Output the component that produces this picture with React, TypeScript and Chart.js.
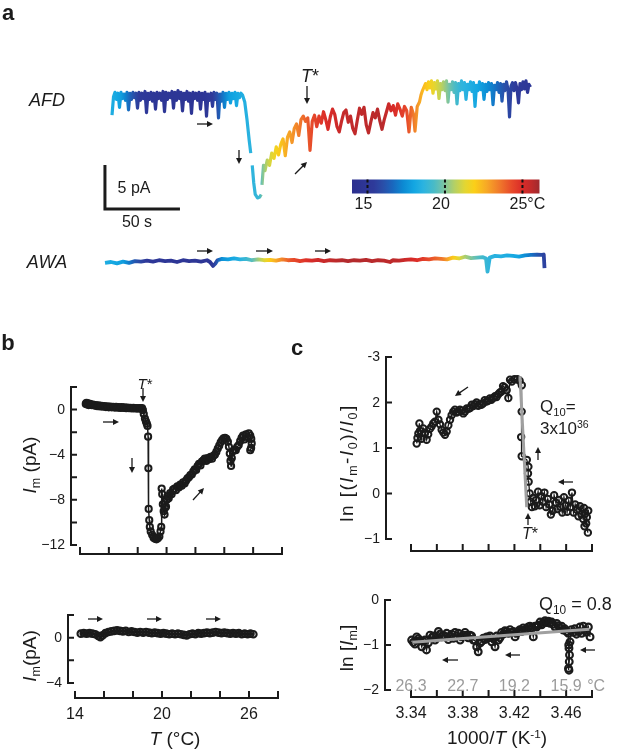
import React, { useEffect, useRef } from "react";
import { Chart, registerables } from "chart.js";

Chart.register(...registerables);

const PAGE_W = 619;
const PAGE_H = 755;
const FONT = '"Liberation Sans", Arial, Helvetica, sans-serif';
const INK = "#1b1b1b";
const FIT_GREY = "#a0a0a0";
const LABEL_GREY = "#9b9b9b";

// ================= Panel a : AFD current trace (s, pA) =================
const afdTime = [
  0, 1, 2, 3, 4, 5, 6, 7, 8, 9,
  10, 11, 12, 13, 14, 15, 16, 17, 18, 19,
  20, 21, 22, 23, 24, 25, 26, 27, 28, 29,
  30, 31, 32, 33, 34, 35, 36, 37, 38, 39,
  40, 41, 42, 43, 44, 45, 46, 47, 48, 49,
  50, 51, 52, 53, 54, 55, 56, 57, 58, 59,
  60, 61, 62, 63, 64, 65, 66, 67, 68, 69,
  70, 71, 72, 73, 74, 75, 76, 77, 78, 79,
  80, 81, 82, 83, 84, 85, 86, 87,
  88.5, 90, 91.5, 92.5, 93, 93.5, 94.5, 95.5, 97, 98.5, 99.5, 99.8,
  100, 101, 102, 103.5, 105, 106.5, 108, 109.5, 111, 112.5,
  114, 115.5, 117, 118.5, 120, 121.5, 123, 124.5, 126, 127.5,
  129, 130.5, 132, 133.5, 135, 136.5, 138, 139.5, 141, 142.5,
  144, 145.5, 147, 148.5, 150, 151.5, 153, 154.5, 156, 157.5,
  159, 160.5, 162, 163.5, 165, 166.5, 168, 169.5, 171, 172.5,
  174, 175.5, 177, 178.5, 180, 181.5, 183, 184.5, 186, 187.5,
  189, 190.5, 192, 193.5, 195, 196.5, 198, 199.5, 201, 202,
  203.5, 205,
  206, 207, 208, 209, 210, 211, 212, 213, 214, 215,
  216, 217, 218, 219, 220, 221, 222, 223, 224, 225,
  226, 227, 228, 229, 230, 231, 232, 233, 234, 235,
  236, 237, 238, 239, 240, 241, 242, 243, 244, 245,
  246, 247, 248, 249, 250, 251, 252, 253, 254, 255,
  256, 257, 258, 259, 260, 261, 262, 263, 264, 265,
  266, 267, 268, 269, 270, 271, 272, 273, 274, 275,
  276, 277, 278, 279,
];
const afdCurrent: (number | null)[] = [
  -2.3, -0.2, 0.3, -0.5, 0.2, -1.4, 0.3, -0.4, 0.1, -0.6,
  0.3, -1.7, 0.2, -0.5, 0.3, -0.3, 0.2, -1.5, 0.3, -0.6,
  0.2, -0.4, 0.4, -2.0, 0.2, -0.5, 0.3, -0.7, 0.2, -1.6,
  0.3, -0.4, 0.2, -0.6, 0.4, -1.9, 0.3, -0.5, 0.2, -0.3,
  0.4, -1.5, 0.3, -0.6, 0.5, -0.4, 0.3, -1.8, 0.2, -0.5,
  0.4, -0.7, 0.2, -2.1, 0.3, -0.4, 0.2, -0.6, 0.3, -1.6,
  0.2, -0.5, 0.3, -2.4, 0.1, -0.6, 0.2, -1.3, 0.3, -0.5,
  0.2, -2.6, 0.1, -0.7, 0.3, -1.4, 0.2, -0.5, 0.3, -0.9,
  0.2, -0.4, 0.3, -1.2, 0.2, -0.3, 0.2, 0.0,
  -0.8, -2.8, -5.2, -6.6, null, -8.0, -10.0, -11.3, -11.7, -11.6, -11.3, null,
  -10.2, -8.0, -8.6, -7.4, -8.0, -6.6, -7.2, -5.9, -6.8, -5.6,
  -5.0, -6.9, -4.8, -4.2, -5.4, -3.8, -3.3, -4.6, -2.8, -2.4,
  -3.0, -2.6, -6.3, -3.0, -2.3, -3.6, -2.4, -3.2, -1.9, -2.8,
  -3.9, -2.5, -1.6, -2.2, -3.6, -4.2, -3.0, -2.0, -1.7, -3.1,
  -2.4, -3.8, -4.4, -2.9, -1.5, -2.2, -1.4, -3.4, -4.3, -3.1,
  -2.0, -2.6, -1.6, -2.9, -3.9, -2.8, -1.9, -1.0, -1.8, -1.2,
  -2.3, -1.0, -1.6, -2.4, -1.3, -1.8, -4.2, -1.4, -2.2, -4.1,
  -1.3, -0.8,
  0.0, 0.5, 0.9, 1.3, 0.6, 1.5, 0.8, 1.6, 0.2, 1.4,
  0.7, 1.6, -0.4, 1.3, 0.6, 1.5, 0.5, 1.6, -0.8, 1.2,
  0.6, 1.5, 0.3, 1.4, -1.0, 1.3, 0.5, 1.6, 0.6, 1.4,
  -0.5, 1.2, 0.6, 1.5, 0.4, 1.4, -1.3, 1.1, 0.5, 1.5,
  0.6, 1.3, -0.5, 1.2, 0.4, 1.4, 0.6, 1.3, -1.1, 1.1,
  0.6, 1.4, 0.3, 1.3, -0.7, 1.2, 0.5, 1.5, 0.6, -2.5,
  1.0, 1.4, 0.5, 1.4, 0.7, -0.9, 1.3, 0.6, 1.5, 0.7,
  1.6, 0.3, 1.2, 0.9,
];
// bath temperature during the AFD recording (s, °C)
const afdTempTime = [0, 6, 12, 18, 30, 60, 67, 72, 78, 88, 98, 100, 104, 110, 116, 124, 132, 140, 155, 180, 188, 196, 201, 207, 213, 219, 225, 232, 244, 254, 262, 270, 279];
const afdTempC = [18.3, 17.8, 16.5, 15.4, 14.9, 14.8, 15.4, 16.5, 17.8, 18.4, 18.9, 19.9, 20.9, 21.8, 22.6, 23.4, 24.2, 24.8, 25.5, 25.7, 25.0, 24.4, 23.5, 22.4, 21.6, 20.8, 19.8, 18.8, 18.0, 17.0, 16.0, 15.3, 15.0];

// ================= Panel a : AWA current trace (s, pA) =================
const awaTime = [
  0, 4, 8, 12, 16, 20, 24, 28, 32, 36,
  40, 44, 48, 52, 56, 60, 64, 68, 70, 72,
  73.5, 75, 78, 82, 86, 90, 94, 98, 102, 106,
  110, 114, 118, 122, 126, 130, 134, 138, 142, 146,
  150, 154, 158, 162, 166, 170, 174, 178, 182, 186,
  190, 192, 196, 200, 204, 208, 212, 216, 220, 224,
  228, 232, 236, 240, 244, 248, 252, 254, 255, 256.5,
  260, 264, 268, 272, 276, 280, 284, 288, 291, 292.5,
  293,
];
const awaCurrent = [
  -0.1, 0.0, -0.15, 0.05, -0.1, 0.1, 0.05, 0.15, 0.05, 0.2,
  0.1, 0.15, 0.0, 0.2, 0.1, 0.15, 0.05, 0.2, 0.0, -0.45,
  -0.2, 0.2, 0.35, 0.3, 0.4, 0.3, 0.35, 0.2, 0.3, 0.2,
  0.25, 0.15, 0.3, 0.2, 0.25, 0.1, 0.2, 0.15, 0.25, 0.1,
  0.2, 0.15, 0.2, 0.1, 0.2, 0.15, 0.25, 0.1, 0.2, 0.15,
  0.0, 0.2, 0.15, 0.25, 0.3, 0.2, 0.35, 0.3, 0.4, 0.35,
  0.3, 0.5, 0.4, 0.6, 0.45, 0.5, 0.55, 0.4, -1.1, 0.5,
  0.7, 0.65, 0.75, 0.7, 0.6, 0.75, 0.8, 0.85, 0.8, 0.85,
  -0.7,
];
const awaTempTime = [0, 12, 20, 30, 70, 74, 78, 90, 98, 104, 110, 116, 124, 140, 160, 195, 210, 225, 232, 240, 248, 256, 275, 283, 290, 293];
const awaTempC = [18.3, 17.8, 16.2, 15.0, 14.8, 16.0, 17.5, 18.5, 19.5, 20.8, 22.0, 23.0, 24.2, 25.2, 25.8, 25.6, 24.8, 23.5, 22.0, 20.5, 19.5, 18.7, 18.0, 17.0, 16.0, 15.6];

// scale bar of panel a
const scaleBarSeconds = 50;
const scaleBarPicoAmp = 5;

// colour bar (°C)
const colorbarTicks = [15, 20, 25];
const colorbarTickLabels = ["15", "20", "25"];
const colorbarUnit = "°C";
const jetTemps = [14.0, 15.4, 16.0, 16.6, 17.3, 18.0, 18.6, 19.3, 19.9, 20.6, 21.3, 21.9, 22.7, 23.5, 24.3, 25.0, 25.6, 26.1];
const jetColors = ["#2c2f8e", "#2e3a9a", "#2a4ea8", "#1a66bd", "#0c8ad3", "#13a6e2", "#2bb3e0", "#4abbc6", "#78c3a4", "#b3d066", "#e3d632", "#fbcf18", "#f7a826", "#f07a2b", "#e74a2a", "#da2b28", "#bf2a2b", "#9e2a2f"];

// ================= Panel b : I_m vs T =================
const bAfdTemp = [
  14.40, 14.45, 14.50, 14.55, 14.60, 14.70, 14.80, 14.90, 15.00, 15.10,
  15.20, 15.30, 15.40, 15.50, 15.60, 15.70, 15.80, 15.90, 16.00, 16.10,
  16.20, 16.30, 16.40, 16.50, 16.60, 16.70, 16.80, 16.90, 17.00, 17.10,
  17.20, 17.30, 17.40, 17.50, 17.60, 17.70, 17.80, 17.90, 18.00, 18.10,
  18.20, 18.30, 18.36, 18.42, 18.50, 18.57, 18.63, 18.68, 18.72, 18.74,
  18.76, 18.80, 18.84, 18.90, 19.00, 19.10, 19.20, 19.30, 19.40, 19.50,
  19.58, 19.63, 19.66, 19.70, 19.74, 19.80, 19.86, 19.90, 19.96, 20.02,
  20.08, 20.15, 20.25, 20.35, 20.45, 20.55, 20.65, 20.75, 20.85, 20.95,
  21.05, 21.15, 21.25, 21.35, 21.45, 21.55, 21.65, 21.75, 21.85, 21.95,
  22.05, 22.15, 22.25, 22.35, 22.45, 22.55, 22.65, 22.75, 22.85, 22.95,
  23.05, 23.15, 23.25, 23.35, 23.45, 23.55, 23.65, 23.75, 23.85, 23.95,
  24.05, 24.15, 24.25, 24.32, 24.38, 24.43, 24.47, 24.52, 24.60, 24.70,
  24.80, 24.90, 25.00, 25.10, 25.20, 25.30, 25.40, 25.50, 25.60, 25.70,
  25.80, 25.87, 25.90, 25.86, 25.80,
];
const bAfdCurrent = [
  0.50, 0.60, 0.45, 0.55, 0.40, 0.50, 0.40, 0.45, 0.35, 0.40,
  0.30, 0.38, 0.28, 0.32, 0.25, 0.30, 0.22, 0.28, 0.20, 0.26,
  0.20, 0.25, 0.18, 0.24, 0.17, 0.22, 0.15, 0.22, 0.15, 0.20,
  0.12, 0.18, 0.12, 0.16, 0.10, 0.15, 0.10, 0.14, 0.08, 0.14,
  0.10, 0.12, -0.05, -0.40, -0.80, -1.05, -1.25, -1.45, -2.40, -5.20,
  -8.80, -9.80, -10.40, -10.80, -11.10, -11.35, -11.45, -11.50, -11.40, -11.25,
  -10.80, -10.40, -7.00, -7.50, -8.40, -9.00, -9.30, -8.70, -8.60, -8.00,
  -7.70, -7.85, -7.40, -7.50, -7.10, -7.00, -7.15, -6.80, -6.90, -6.65,
  -6.75, -6.45, -6.55, -6.30, -6.10, -6.00, -5.80, -5.75, -5.50, -5.30,
  -5.35, -5.00, -4.80, -4.95, -4.60, -4.50, -4.35, -4.55, -4.30, -4.40,
  -4.20, -4.35, -4.10, -4.00, -3.75, -3.45, -3.20, -2.90, -2.70, -2.55,
  -2.50, -2.60, -2.85, -3.30, -3.90, -4.55, -5.00, -4.30, -3.70, -3.55,
  -3.60, -3.30, -3.15, -2.80, -2.50, -2.30, -2.65, -2.20, -2.45, -2.10,
  -2.30, -2.60, -3.00, -3.40, -3.60,
];
const bAwaTemp = [
  14.4, 14.6, 14.8, 15.0, 15.2, 15.4, 15.6, 15.75, 15.9, 16.1,
  16.3, 16.5, 16.7, 16.9, 17.1, 17.3, 17.5, 17.7, 17.9, 18.1,
  18.3, 18.5, 18.7, 18.9, 19.1, 19.3, 19.5, 19.7, 19.9, 20.1,
  20.3, 20.5, 20.7, 20.9, 21.1, 21.3, 21.5, 21.7, 21.9, 22.1,
  22.3, 22.5, 22.7, 22.9, 23.1, 23.3, 23.5, 23.7, 23.9, 24.1,
  24.3, 24.5, 24.7, 24.9, 25.1, 25.3, 25.5, 25.7, 25.9, 26.1,
  26.3,
];
const bAwaCurrent = [
  0.35, 0.4, 0.35, 0.4, 0.35, 0.3, 0.15, 0.05, 0.2, 0.4,
  0.5, 0.55, 0.6, 0.65, 0.6, 0.55, 0.6, 0.5, 0.55, 0.5,
  0.45, 0.5, 0.45, 0.5, 0.45, 0.4, 0.45, 0.4, 0.35, 0.4,
  0.35, 0.3, 0.35, 0.3, 0.35, 0.3, 0.25, 0.2, 0.3, 0.35,
  0.3, 0.4, 0.35, 0.4, 0.45, 0.4, 0.45, 0.5, 0.45, 0.4,
  0.45, 0.4, 0.35, 0.4, 0.35, 0.4, 0.3, 0.35, 0.3, 0.35,
  0.3,
];
const bTopYTicks = [2, 0, -2, -4, -6, -8, -10, -12];
const bTopYLabels = [0, -4, -8, -12];
const bBotYTicks = [2, 0, -2, -4];
const bBotYLabels = [0, -4];
const bXTicks = [14, 16, 18, 20, 22, 24, 26, 28];
const bXLabels = [14, 20, 26];

// ================= Panel c : Arrhenius plots =================
const cAfdInvT = [
  3.4768, 3.4755, 3.4760, 3.4742, 3.4771, 3.4748, 3.4732, 3.4738, 3.4720, 3.4707,
  3.4695, 3.4682, 3.4670, 3.4657, 3.4645, 3.4632, 3.4620, 3.4608, 3.4595, 3.4583,
  3.4570, 3.4558, 3.4545, 3.4532, 3.4520, 3.4507, 3.4495, 3.4482, 3.4470, 3.4458,
  3.4445, 3.4432, 3.4420, 3.4408, 3.4395, 3.4383, 3.4370, 3.4358, 3.4345, 3.4335,
  3.4325, 3.4318, 3.4310, 3.4305, 3.4308, 3.4296, 3.4256, 3.4252, 3.4256, 3.4257,
  3.4240, 3.4222, 3.4200, 3.4180, 3.4166, 3.4153, 3.4140, 3.4125, 3.4112, 3.4100,
  3.4088, 3.4075, 3.4062, 3.4050, 3.4036, 3.4022, 3.4010, 3.3996, 3.3984, 3.3970,
  3.3957, 3.3944, 3.3932, 3.3920, 3.3907, 3.3895, 3.3882, 3.3870, 3.3857, 3.3844,
  3.3831, 3.3818, 3.3805, 3.3792, 3.3779, 3.3766, 3.3753, 3.3740, 3.3727, 3.3714,
  3.3702, 3.3689, 3.3676, 3.3663, 3.3650, 3.3637, 3.3624, 3.3612, 3.3599, 3.3585,
  3.3572, 3.3559, 3.3546, 3.3533, 3.3521, 3.3508, 3.3495, 3.3482, 3.3470, 3.3465,
  3.3457, 3.3450, 3.3444,
];
const cAfdLn = [
  -0.86, -0.66, -0.52, -0.72, -0.38, -0.44, -0.56, -0.32, -0.46, -0.28,
  -0.50, -0.36, -0.24, -0.42, 0.02, -0.30, -0.16, -0.40, -0.26, -0.08,
  -0.42, -0.30, -0.14, -0.34, -0.20, -0.04, -0.38, -0.46, -0.24, -0.12,
  -0.30, 0.02, -0.18, -0.06, -0.26, 0.04, -0.14, -0.28, -0.10, -0.30,
  -0.18, 0.00, 0.26, 0.44, 0.59, 0.74, 0.82, 1.24, 1.80, 2.38,
  2.48, 2.51, 2.51, 2.46, 2.50, 2.10, 2.27, 2.33, 2.36, 2.24,
  2.22, 2.18, 2.12, 2.14, 2.10, 2.06, 2.09, 2.04, 2.02, 2.05,
  1.98, 1.95, 1.97, 1.93, 2.00, 1.96, 1.92, 1.95, 1.88, 1.86,
  1.87, 1.80, 1.76, 1.82, 1.84, 1.80, 1.78, 1.84, 1.80, 1.72,
  1.62, 1.50, 1.36, 1.29, 1.34, 1.40, 1.52, 1.62, 1.80, 1.58,
  1.54, 1.47, 1.42, 1.30, 1.18, 1.34, 1.43, 1.20, 1.38, 1.54,
  1.32, 1.22, 1.10,
];
const cAfdFitInvT = [3.4243, 3.4295];
const cAfdFitLn = [2.58, -0.3];

const cAwaInvT = [
  3.4785, 3.4772, 3.4758, 3.4746, 3.4733, 3.4720, 3.4707, 3.4694, 3.4680, 3.4667,
  3.4654, 3.4641, 3.4630, 3.4622, 3.4626, 3.4624, 3.4618, 3.4622, 3.4620, 3.4617,
  3.4604, 3.4590, 3.4578, 3.4565, 3.4552, 3.4540, 3.4527, 3.4514, 3.4500, 3.4488,
  3.4475, 3.4463, 3.4450, 3.4437, 3.4424, 3.4411, 3.4398, 3.4385, 3.4372, 3.4359,
  3.4346, 3.4333, 3.4320, 3.4307, 3.4294, 3.4281, 3.4268, 3.4255, 3.4242, 3.4230,
  3.4217, 3.4205, 3.4192, 3.4179, 3.4166, 3.4153, 3.4140, 3.4127, 3.4114, 3.4101,
  3.4088, 3.4076, 3.4063, 3.4050, 3.4037, 3.4024, 3.4011, 3.3998, 3.3985, 3.3972,
  3.3959, 3.3947, 3.3934, 3.3920, 3.3908, 3.3895, 3.3882, 3.3869, 3.3856, 3.3843,
  3.3830, 3.3818, 3.3805, 3.3792, 3.3780, 3.3767, 3.3754, 3.3741, 3.3728, 3.3715,
  3.3702, 3.3689, 3.3676, 3.3663, 3.3650, 3.3637, 3.3624, 3.3612, 3.3599, 3.3586,
  3.3573, 3.3560, 3.3547, 3.3534, 3.3520, 3.3508, 3.3495, 3.3483, 3.3470, 3.3457,
  3.3444, 3.3431, 3.3418, 3.3405,
];
const cAwaLn = [
  -0.82, -0.60, -0.72, -0.68, -0.58, -0.74, -0.60, -0.70, -0.76, -0.64,
  -0.72, -0.66, -0.93, -1.07, -1.22, -1.37, -1.52, -1.56, -1.00, -0.74,
  -0.70, -0.64, -0.67, -0.58, -0.62, -0.57, -0.52, -0.60, -0.54, -0.49,
  -0.52, -0.47, -0.50, -0.46, -0.50, -0.55, -0.49, -0.56, -0.60, -0.58,
  -0.82, -0.62, -0.58, -0.60, -0.64, -0.66, -0.62, -0.70, -0.66, -0.70,
  -0.74, -0.82, -0.70, -0.72, -0.66, -0.74, -0.70, -0.68, -0.76, -0.72,
  -0.84, -0.89, -0.80, -1.04, -0.86, -0.93, -0.80, -0.84, -0.82, -0.88,
  -0.85, -0.92, -0.96, -1.15, -1.04, -0.90, -0.89, -0.80, -0.78, -0.84,
  -0.78, -0.72, -0.78, -0.82, -0.89, -0.74, -0.80, -0.72, -0.85, -0.76,
  -0.80, -0.88, -0.74, -0.82, -0.78, -0.82, -0.76, -0.70, -0.84, -0.89,
  -0.80, -0.84, -0.78, -0.95, -1.11, -0.89, -0.92, -1.04, -0.90, -0.86,
  -0.82, -0.98, -0.94, -0.89,
];
const cAwaFitInvT = [3.341, 3.478];
const cAwaFitLn = [-0.94, -0.65];

const cTopYTicks = [3, 2, 1, 0, -1];
const cTopYLabelText = ["-3", "2", "1", "0", "\u22121"];
const cBotYTicks = [0, -1, -2];
const cXTicks = [3.34, 3.36, 3.38, 3.4, 3.42, 3.44, 3.46, 3.48];
const cXLabels = [3.34, 3.38, 3.42, 3.46];
const cXLabelText = ["3.34", "3.38", "3.42", "3.46"];
const cCelsiusLabels = ["26.3", "22.7", "19.2", "15.9"];
const cCelsiusUnit = "°C";

// ================= layout (page pixels) =================
type Area = { left: number; right: number; top: number; bottom: number };
const AREA_AFD: Area = { left: 112, right: 532, top: 81.8, bottom: 209.4 };
const AREA_AWA: Area = { left: 105, right: 546, top: 244.4, bottom: 279.6 };
const AREA_BAR: Area = { left: 352, right: 539.5, top: 179.5, bottom: 193.5 };
const AREA_B_TOP: Area = { left: 80, right: 282, top: 387, bottom: 545 };
const AREA_B_BOT: Area = { left: 75, right: 278, top: 615, bottom: 683 };
const AREA_C_TOP: Area = { left: 411, right: 592, top: 357, bottom: 539 };
const AREA_C_BOT: Area = { left: 411, right: 592, top: 600, bottom: 690 };

const ARROWS: [number, number, number, number][] = [
  [197, 124, 213, 124], [239, 150, 239, 164], [295, 174, 307, 162], [307, 86, 307, 104],
  [197, 251, 213, 251], [256, 251, 273, 251], [315, 251, 331, 251],
  [103, 422, 119, 422], [132, 458, 132, 473], [193, 500, 204, 488], [143, 388, 143, 402],
  [88, 619, 103, 619], [147, 619, 162, 619], [206, 619, 221, 619],
  [468, 387, 455, 396], [538, 460, 538, 447], [573, 482, 558, 482], [528, 525, 528, 513],
  [458, 660, 442, 660], [520, 655, 505, 655], [595, 650, 580, 650],
];

// ================= helpers =================
const zip = (xs: number[], ys: (number | null)[]) => xs.map((x, i) => ({ x, y: ys[i] }));
const minus = (v: number) => (v < 0 ? "\u2212" + Math.abs(v) : String(v));

function hexRgb(h: string) {
  const n = parseInt(h.slice(1), 16);
  return [(n >> 16) & 255, (n >> 8) & 255, n & 255];
}
function jet(t: number) {
  const last = jetTemps.length - 1;
  if (t <= jetTemps[0]) return jetColors[0];
  if (t >= jetTemps[last]) return jetColors[last];
  let i = 0;
  while (t > jetTemps[i + 1]) i++;
  const f = (t - jetTemps[i]) / (jetTemps[i + 1] - jetTemps[i]);
  const a = hexRgb(jetColors[i]);
  const b = hexRgb(jetColors[i + 1]);
  return `rgb(${a.map((v, k) => Math.round(v + (b[k] - v) * f)).join(",")})`;
}
function traceGradient(times: number[], temps: number[]) {
  return (context: any) => {
    const chart = context.chart;
    const { ctx, chartArea, scales } = chart;
    if (!chartArea || !scales || !scales.x) return INK;
    const xs = scales.x;
    const x0 = xs.getPixelForValue(times[0]);
    const x1 = xs.getPixelForValue(times[times.length - 1]);
    const g = ctx.createLinearGradient(x0, 0, x1, 0);
    for (let i = 0; i < times.length - 1; i++) {
      for (let s = 0; s < 4; s++) {
        const f = s / 4;
        const t = times[i] + (times[i + 1] - times[i]) * f;
        const c = temps[i] + (temps[i + 1] - temps[i]) * f;
        g.addColorStop(Math.min(1, Math.max(0, (xs.getPixelForValue(t) - x0) / (x1 - x0))), jet(c));
      }
    }
    g.addColorStop(1, jet(temps[temps.length - 1]));
    return g;
  };
}

function baseOptions(area: Area, xr: [number, number], yr: [number, number]) {
  return {
    animation: false as const,
    responsive: false,
    devicePixelRatio: 1,
    events: [] as any[],
    layout: { padding: { left: area.left, top: area.top, right: PAGE_W - area.right, bottom: PAGE_H - area.bottom } },
    scales: {
      x: { type: "linear" as const, display: false, min: xr[0], max: xr[1] },
      y: { type: "linear" as const, display: false, min: yr[0], max: yr[1] },
    },
    plugins: { legend: { display: false }, tooltip: { enabled: false } },
  };
}

type AxisSpec = {
  y?: { offset: number; ticks: number[]; at: number[]; text: string[] };
  x?: { offset: number; ticks: number[]; at?: number[]; text?: string[] };
  grey?: { at: number[]; text: string[]; unit: string; rise: number };
};

function axesPlugin(spec: AxisSpec) {
  return {
    id: "sciAxes",
    afterDraw(chart: any) {
      const { ctx, chartArea: ca, scales } = chart;
      const xs = scales.x;
      const ys = scales.y;
      ctx.save();
      ctx.strokeStyle = INK;
      ctx.fillStyle = INK;
      ctx.lineWidth = 2;
      ctx.lineCap = "square";
      if (spec.y) {
        const ax = ca.left - spec.y.offset;
        const top = ys.getPixelForValue(Math.max(...spec.y.ticks));
        const bot = ys.getPixelForValue(Math.min(...spec.y.ticks));
        ctx.beginPath();
        ctx.moveTo(ax, top);
        ctx.lineTo(ax, bot);
        spec.y.ticks.forEach((v) => {
          const p = ys.getPixelForValue(v);
          ctx.moveTo(ax, p);
          ctx.lineTo(ax + 5, p);
        });
        ctx.stroke();
        ctx.font = `14px ${FONT}`;
        ctx.textAlign = "right";
        ctx.textBaseline = "middle";
        spec.y.at.forEach((v, i) => ctx.fillText(spec.y!.text[i], ax - 6, ys.getPixelForValue(v) + 0.5));
      }
      if (spec.x) {
        const ay = ca.bottom + spec.x.offset;
        const l = xs.getPixelForValue(Math.min(...spec.x.ticks));
        const r = xs.getPixelForValue(Math.max(...spec.x.ticks));
        ctx.beginPath();
        ctx.moveTo(l, ay);
        ctx.lineTo(r, ay);
        spec.x.ticks.forEach((v) => {
          const p = xs.getPixelForValue(v);
          ctx.moveTo(p, ay);
          ctx.lineTo(p, ay - 6);
        });
        ctx.stroke();
        if (spec.x.at && spec.x.text) {
          ctx.font = `16px ${FONT}`;
          ctx.textAlign = "center";
          ctx.textBaseline = "middle";
          spec.x.at.forEach((v, i) => ctx.fillText(spec.x!.text![i], xs.getPixelForValue(v), ay + 17));
        }
        if (spec.grey) {
          ctx.font = `16px ${FONT}`;
          ctx.fillStyle = LABEL_GREY;
          ctx.textBaseline = "middle";
          const g = spec.grey;
          g.at.forEach((v, i) => {
            const px = xs.getPixelForValue(v);
            const py = ay - g.rise;
            ctx.textAlign = "center";
            ctx.fillText(g.text[i], px, py);
            if (i === g.at.length - 1) {
              ctx.textAlign = "left";
              ctx.fillText(" " + g.unit, px + ctx.measureText(g.text[i]).width / 2 + 1, py);
            }
          });
        }
      }
      ctx.restore();
    },
  };
}

function colorbarPlugin() {
  return {
    id: "colorbar",
    afterDraw(chart: any) {
      const { ctx, chartArea: ca, scales } = chart;
      const xs = scales.x;
      ctx.save();
      const g = ctx.createLinearGradient(ca.left, 0, ca.right, 0);
      jetTemps.forEach((t, i) => {
        const f = (xs.getPixelForValue(t) - ca.left) / (ca.right - ca.left);
        g.addColorStop(Math.min(1, Math.max(0, f)), jetColors[i]);
      });
      ctx.fillStyle = g;
      ctx.fillRect(ca.left, ca.top, ca.right - ca.left, ca.bottom - ca.top);
      ctx.strokeStyle = "#111";
      ctx.lineWidth = 2;
      ctx.setLineDash([3, 2.5]);
      colorbarTicks.forEach((v) => {
        const p = xs.getPixelForValue(v);
        ctx.beginPath();
        ctx.moveTo(p, ca.top);
        ctx.lineTo(p, ca.bottom);
        ctx.stroke();
      });
      ctx.setLineDash([]);
      ctx.fillStyle = INK;
      ctx.font = `16px ${FONT}`;
      ctx.textBaseline = "middle";
      colorbarTicks.forEach((v, i) => {
        const p = xs.getPixelForValue(v) - 4;
        ctx.textAlign = "center";
        ctx.fillText(colorbarTickLabels[i], p, ca.bottom + 11);
        if (i === colorbarTicks.length - 1) {
          ctx.textAlign = "left";
          ctx.fillText(colorbarUnit, p + ctx.measureText(colorbarTickLabels[i]).width / 2, ca.bottom + 11);
        }
      });
      ctx.restore();
    },
  };
}

function scaleBarPlugin(t0: number, i0: number) {
  return {
    id: "scaleBar",
    afterDraw(chart: any) {
      const { ctx, scales } = chart;
      const x0 = scales.x.getPixelForValue(t0);
      const x1 = scales.x.getPixelForValue(t0 + scaleBarSeconds);
      const y0 = scales.y.getPixelForValue(i0);
      const y1 = scales.y.getPixelForValue(i0 + scaleBarPicoAmp);
      ctx.save();
      ctx.strokeStyle = INK;
      ctx.lineWidth = 3;
      ctx.lineJoin = "miter";
      ctx.beginPath();
      ctx.moveTo(x0, y1);
      ctx.lineTo(x0, y0);
      ctx.lineTo(x1, y0);
      ctx.stroke();
      ctx.restore();
    },
  };
}

const circleStyle = {
  showLine: true,
  borderColor: INK,
  borderWidth: 1.5,
  pointRadius: 2.9,
  pointBorderWidth: 1.9,
  pointBorderColor: INK,
  pointBackgroundColor: "rgba(255,255,255,0)",
  clip: false as const,
};

// ================= chart factories =================
const factories: (() => any)[] = [
  () => ({
    type: "scatter",
    data: {
      datasets: [
        {
          data: zip(afdTime, afdCurrent),
          showLine: true,
          spanGaps: false,
          pointRadius: 0,
          borderWidth: 3.2,
          borderJoinStyle: "round",
          borderColor: traceGradient(afdTempTime, afdTempC),
          clip: false,
        },
      ],
    },
    options: baseOptions(AREA_AFD, [0, 280], [-13, 1.5]),
    plugins: [scaleBarPlugin(-4.7, -12.95)],
  }),
  () => ({
    type: "scatter",
    data: {
      datasets: [
        {
          data: zip(awaTime, awaCurrent),
          showLine: true,
          pointRadius: 0,
          borderWidth: 3.8,
          borderJoinStyle: "round",
          borderColor: traceGradient(awaTempTime, awaTempC),
          clip: false,
        },
      ],
    },
    options: baseOptions(AREA_AWA, [0, 294], [-2, 2]),
  }),
  () => ({
    type: "scatter",
    data: { datasets: [] },
    options: baseOptions(AREA_BAR, [14, 26.1], [0, 1]),
    plugins: [colorbarPlugin()],
  }),
  () => ({
    type: "scatter",
    data: { datasets: [{ data: zip(bAfdTemp, bAfdCurrent), ...circleStyle, pointRadius: 3.1, pointBorderWidth: 2 }] },
    options: baseOptions(AREA_B_TOP, [14, 28], [-12, 2]),
    plugins: [
      axesPlugin({
        y: { offset: 9, ticks: bTopYTicks, at: bTopYLabels, text: bTopYLabels.map(minus) },
        x: { offset: 9, ticks: bXTicks },
      }),
    ],
  }),
  () => ({
    type: "scatter",
    data: { datasets: [{ data: zip(bAwaTemp, bAwaCurrent), ...circleStyle, borderWidth: 3, pointRadius: 3.3, pointBorderWidth: 2.1 }] },
    options: baseOptions(AREA_B_BOT, [14, 28], [-4, 2]),
    plugins: [
      axesPlugin({
        y: { offset: 7, ticks: bBotYTicks, at: bBotYLabels, text: bBotYLabels.map(minus) },
        x: { offset: 15, ticks: bXTicks, at: bXLabels, text: bXLabels.map(String) },
      }),
    ],
  }),
  () => ({
    type: "scatter",
    data: {
      datasets: [
        { data: zip(cAfdFitInvT, cAfdFitLn), showLine: true, borderColor: FIT_GREY, borderWidth: 3, pointRadius: 0, clip: false },
        { data: zip(cAfdInvT, cAfdLn), ...circleStyle, borderWidth: 1.3, pointRadius: 3.2, pointBorderWidth: 2 },
      ],
    },
    options: baseOptions(AREA_C_TOP, [3.34, 3.48], [-1, 3]),
    plugins: [
      axesPlugin({
        y: { offset: 25, ticks: cTopYTicks, at: cTopYTicks, text: cTopYLabelText },
        x: { offset: 12, ticks: cXTicks },
      }),
    ],
  }),
  () => ({
    type: "scatter",
    data: {
      datasets: [
        { data: zip(cAwaFitInvT, cAwaFitLn), showLine: true, borderColor: FIT_GREY, borderWidth: 3, pointRadius: 0, clip: false },
        { data: zip(cAwaInvT, cAwaLn), ...circleStyle, borderWidth: 1.3, pointRadius: 3.4, pointBorderWidth: 2.1 },
      ],
    },
    options: baseOptions(AREA_C_BOT, [3.34, 3.48], [-2, 0]),
    plugins: [
      axesPlugin({
        y: { offset: 26, ticks: cBotYTicks, at: cBotYTicks, text: cBotYTicks.map(minus) },
        x: { offset: 7, ticks: cXTicks, at: cXLabels, text: cXLabelText },
        grey: { at: cXLabels, text: cCelsiusLabels, unit: cCelsiusUnit, rise: 10 },
      }),
    ],
  }),
];

function ChartLayer({ make }: { make: () => any }) {
  const ref = useRef<HTMLCanvasElement>(null);
  useEffect(() => {
    if (!ref.current) return;
    const chart = new Chart(ref.current, make());
    return () => chart.destroy();
  }, [make]);
  return (
    <canvas
      ref={ref}
      width={PAGE_W}
      height={PAGE_H}
      style={{ position: "absolute", left: 0, top: 0, width: PAGE_W, height: PAGE_H, pointerEvents: "none" }}
    />
  );
}

// ================= text helpers =================
const It = ({ children }: { children: React.ReactNode }) => <span style={{ fontStyle: "italic" }}>{children}</span>;
const Sub = ({ children }: { children: React.ReactNode }) => (
  <span style={{ fontSize: "0.66em", position: "relative", top: "0.32em" }}>{children}</span>
);
const Sup = ({ children }: { children: React.ReactNode }) => (
  <span style={{ fontSize: "0.62em", position: "relative", top: "-0.55em" }}>{children}</span>
);

function Txt(props: {
  x: number;
  y: number;
  size: number;
  anchor?: "center" | "left";
  rotate?: boolean;
  bold?: boolean;
  spacing?: number;
  children: React.ReactNode;
}) {
  const { x, y, size, anchor = "center", rotate = false, bold = false, spacing = 0, children } = props;
  const tx = anchor === "center" ? "-50%" : "0";
  return (
    <div
      style={{
        position: "absolute",
        left: x,
        top: y,
        transform: `translate(${tx}, -50%)${rotate ? " rotate(-90deg)" : ""}`,
        fontSize: size,
        lineHeight: 1,
        fontWeight: bold ? 700 : 400,
        letterSpacing: spacing,
        whiteSpace: "nowrap",
        fontFamily: FONT,
        color: INK,
      }}
    >
      {children}
    </div>
  );
}

function Arrow({ a }: { a: [number, number, number, number] }) {
  const [x1, y1, x2, y2] = a;
  const dx = x2 - x1;
  const dy = y2 - y1;
  const L = Math.hypot(dx, dy);
  const ux = dx / L;
  const uy = dy / L;
  const hl = 6;
  const hw = 3;
  const bx = x2 - ux * hl;
  const by = y2 - uy * hl;
  const pts = `${x2},${y2} ${bx - uy * hw},${by + ux * hw} ${bx + uy * hw},${by - ux * hw}`;
  return (
    <g>
      <line x1={x1} y1={y1} x2={bx + ux} y2={by + uy} stroke={INK} strokeWidth={1.3} />
      <polygon points={pts} fill={INK} />
    </g>
  );
}

export default function App() {
  return (
    <div
      style={{
        position: "absolute",
        left: 0,
        top: 0,
        width: PAGE_W,
        height: PAGE_H,
        background: "#ffffff",
        overflow: "hidden",
        fontFamily: FONT,
      }}
    >
      {factories.map((f, i) => (
        <ChartLayer key={i} make={f} />
      ))}
      <svg width={PAGE_W} height={PAGE_H} style={{ position: "absolute", left: 0, top: 0 }}>
        {ARROWS.map((a, i) => (
          <Arrow key={i} a={a} />
        ))}
      </svg>

      <Txt x={8} y={13} size={22} bold>a</Txt>
      <Txt x={8} y={343} size={22} bold>b</Txt>
      <Txt x={297} y={348} size={22} bold>c</Txt>

      <Txt x={47} y={100} size={18}><It>AFD</It></Txt>
      <Txt x={47} y={262} size={18}><It>AWA</It></Txt>
      <Txt x={310} y={76} size={18}><It>T</It>*</Txt>
      <Txt x={134} y={188} size={16}>5 pA</Txt>
      <Txt x={137} y={222} size={16}>50 s</Txt>

      <Txt x={145} y={383} size={15}><It>T</It>*</Txt>
      <Txt x={29} y={465} size={19} rotate><It>I</It><Sub>m</Sub> (pA)</Txt>
      <Txt x={29} y={656} size={19} rotate><It>I</It><Sub>m</Sub>(pA)</Txt>
      <Txt x={175} y={738} size={19}><It>T</It> (°C)</Txt>

      <Txt x={530} y={534} size={16}><It>T</It>*</Txt>
      <Txt x={540} y={406} size={17} anchor="left">Q<Sub>10</Sub>=</Txt>
      <Txt x={540} y={428} size={17} anchor="left">3x10<Sup>36</Sup></Txt>
      <Txt x={346} y={463} size={19} rotate spacing={1.5}>
        ln [(<It>I</It><Sub>m</Sub>-<It>I</It><Sub>0</Sub>)/<It>I</It><Sub>0</Sub>]
      </Txt>
      <Txt x={346} y={648} size={19} rotate>ln [<It>I</It><Sub>m</Sub>]</Txt>
      <Txt x={539} y={604} size={18} anchor="left">Q<Sub>10</Sub> = 0.8</Txt>
      <Txt x={497} y={737} size={19}>1000/<It>T</It> (K<Sup>-1</Sup>)</Txt>
    </div>
  );
}
